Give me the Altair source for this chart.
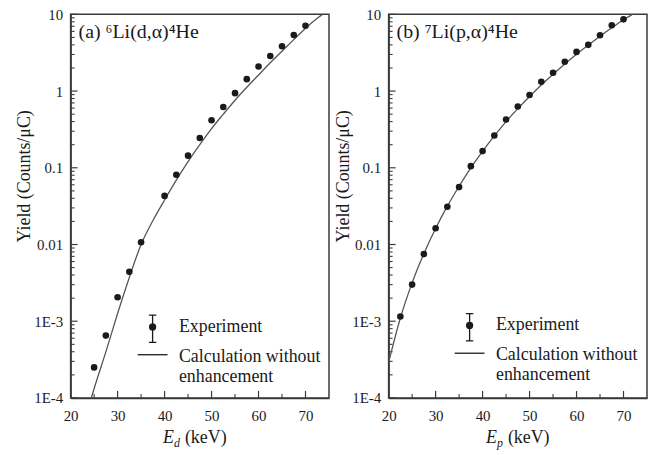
import math
import altair as alt
import pandas as pd

FONT = "Liberation Serif"
INK = "#1a1a1a"
AXIS_C = "#3a3a3a"
CURVE_C = "#555555"

# ---------------- data ----------------
# Panel (a) 6Li(d,alpha)4He
A_EXP_E = [25, 27.5, 30, 32.5, 35, 40, 42.5, 45, 47.5, 50, 52.5, 55, 57.5, 60, 62.5, 65, 67.5, 70]
A_EXP_Y = [2.5e-4, 6.5e-4, 2.05e-3, 4.4e-3, 0.0107, 0.043, 0.081, 0.144, 0.244, 0.417,
           0.62, 0.94, 1.43, 2.09, 2.87, 3.83, 5.37, 7.1]
A_CALC_E = [24.4, 25, 27.5, 30, 32.5, 35, 37.5, 40, 42.5, 45, 47.5, 50, 52.5, 55, 57.5,
            60, 62.5, 65, 67.5, 70, 72.5, 73.6]
A_CALC_Y = [1.0e-4, 1.32e-4, 3.98e-4, 1.26e-3, 3.72e-3, 0.0100, 0.0204, 0.038, 0.069, 0.120,
            0.200, 0.324, 0.50, 0.76, 1.12, 1.62, 2.34, 3.31, 4.68, 6.6, 8.9, 10.0]

# Panel (b) 7Li(p,alpha)4He
B_EXP_E = [22.5, 25, 27.5, 30, 32.5, 35, 37.5, 40, 42.5, 45, 47.5, 50, 52.5, 55, 57.5,
           60, 62.5, 65, 67.5, 70]
B_EXP_Y = [1.15e-3, 3.0e-3, 7.5e-3, 0.0163, 0.031, 0.056, 0.105, 0.165, 0.264, 0.425,
           0.63, 0.89, 1.32, 1.73, 2.41, 3.24, 4.0, 5.34, 7.2, 8.6]
B_CALC_E = [20, 22.5, 25, 27.5, 30, 32.5, 35, 37.5, 40, 42.5, 45, 47.5, 50, 52.5, 55,
            57.5, 60, 62.5, 65, 67.5, 70, 71.9]
B_CALC_Y = [2.9e-4, 1.10e-3, 3.16e-3, 7.6e-3, 0.0162, 0.0316, 0.0575, 0.100, 0.164, 0.26,
            0.40, 0.59, 0.85, 1.20, 1.66, 2.26, 3.02, 3.98, 5.19, 6.68, 8.5, 10.0]

# axes
X_MAJOR = [20, 30, 40, 50, 60, 70]
X_MINOR = [25, 35, 45, 55, 65]
Y_MAJOR = [1e-4, 1e-3, 1e-2, 1e-1, 1, 10]
Y_TICK_LABELS = ["1E-4", "1E-3", "0.01", "0.1", "1", "10"]
Y_MINOR_MULT = [2, 3, 4, 5, 6, 7, 8, 9]
Y_MINOR = [m * d for d in Y_MAJOR[:-1] for m in Y_MINOR_MULT]
Y_TITLE = "Yield (Counts/\u03bcC)"

LEGEND_LINES = [["Experiment"], ["Calculation without", "enhancement"]]
LEGEND_LABELS = [" ".join(l) for l in LEGEND_LINES]

TITLE_A = "(a) \u2076Li(d,\u03b1)\u2074He"
TITLE_B = "(b) \u2077Li(p,\u03b1)\u2074He"
XT_A = ["E", "d", "(keV)"]
XT_B = ["E", "p", "(keV)"]

# ---------------- layout / style ----------------
W, H = 260, 386
XS = alt.Scale(domain=[20, 75], nice=False, zero=False)
YS = alt.Scale(type="log", domain=[1e-4, 10], nice=False)

# legend symbols, drawn with strokes only (unit = 10 px at symbolSize 400)
def ring(r):
    return f"M{-r},0A{r},{r},0,1,0,{r},0A{r},{r},0,1,0,{-r},0"

ERR_PATH = ("M0,-1.175L0,1.555M-0.37,-1.175L0.37,-1.175M-0.37,1.555L0.37,1.555"
            + ring(0.3) + ring(0.2) + ring(0.1))
LINE_PATH = "M-1.5,-0.2L1.5,-0.2"

ylab_expr = ""
for v, lab in zip(Y_MAJOR, Y_TICK_LABELS):
    ylab_expr += f"abs(log(datum.value)/log(10) - ({math.log10(v)})) < 0.01 ? '{lab}' : "
ylab_expr += "datum.label"

leg_expr = ""
for lines, lab in zip(LEGEND_LINES, LEGEND_LABELS):
    arr = "[" + ",".join(f"'{s}'" for s in lines) + "]"
    leg_expr += f"datum.label == '{lab}' ? {arr} : "
leg_expr += "datum.label"


def axes(title_x):
    xa = alt.Axis(values=X_MAJOR, format="d", ticks=False, tickSize=0, labelPadding=11,
                  labelFont=FONT, labelFontSize=15, labelColor=INK, labelFlush=False,
                  domainColor=AXIS_C, domainWidth=1.5, grid=False, title=None)
    ya = alt.Axis(values=Y_MAJOR, labelExpr=ylab_expr, ticks=False, tickSize=0,
                  labelPadding=8, labelFont=FONT, labelFontSize=15, labelColor=INK,
                  labelFlush=False, labelOverlap=False, domainColor=AXIS_C, domainWidth=1.5,
                  grid=False, title=Y_TITLE, titleFont=FONT, titleFontSize=18,
                  titleFontWeight="normal", titleColor=INK, titleX=title_x, titleY=162.5,
                  titleAlign="center", titleBaseline="middle")
    return xa, ya


def text_layer(txt, x, y, size, style="normal"):
    return alt.Chart(pd.DataFrame({"t": [txt]})).mark_text(
        align="left", baseline="alphabetic", fontSize=size, fontStyle=style,
        color=INK, font=FONT
    ).encode(x=alt.value(x), y=alt.value(y), text="t:N")


def panel(exp_e, exp_y, calc_e, calc_y, title, xt, title_x, legend_x, legend_y, xt_x):
    xa, ya = axes(title_x)
    exp = pd.DataFrame({"E": exp_e, "Y": exp_y, "series": LEGEND_LABELS[0]})
    calc = pd.DataFrame({"E": calc_e, "Y": calc_y})
    X = alt.X("E:Q", scale=XS, axis=xa)
    Y = alt.Y("Y:Q", scale=YS, axis=ya)

    curve = alt.Chart(calc).mark_line(color=CURVE_C, strokeWidth=1.3, clip=True,
                                      interpolate="monotone").encode(x=X, y=Y)
    pts = alt.Chart(exp).mark_circle(size=44, color=INK, opacity=1).encode(x=X, y=Y)
    leg = alt.Chart(exp).transform_filter("false").mark_point(
        filled=False, color=INK, strokeWidth=1.3, opacity=1
    ).encode(
        x=X, y=Y,
        shape=alt.Shape("series:N",
                        scale=alt.Scale(domain=LEGEND_LABELS, range=[ERR_PATH, LINE_PATH]),
                        legend=alt.Legend(title=None, orient="none", legendX=legend_x,
                                          legendY=legend_y, padding=0, symbolSize=400,
                                          symbolStrokeColor=INK, symbolStrokeWidth=1.3,
                                          symbolOpacity=1, labelFontSize=18, labelColor=INK,
                                          labelFont=FONT, labelOffset=15.5, labelLimit=400,
                                          rowPadding=0, labelExpr=leg_expr)))

    ymaj = alt.Chart(pd.DataFrame({"v": Y_MAJOR})).mark_rule(color=AXIS_C, strokeWidth=1.2).encode(
        y=alt.Y("v:Q", scale=YS, axis=ya), x=alt.value(0), x2=alt.value(7))
    ymin = alt.Chart(pd.DataFrame({"v": Y_MINOR})).mark_rule(color=AXIS_C, strokeWidth=1.1).encode(
        y=alt.Y("v:Q", scale=YS, axis=ya), x=alt.value(0), x2=alt.value(4))
    xmaj = alt.Chart(pd.DataFrame({"v": X_MAJOR})).mark_rule(color=AXIS_C, strokeWidth=1.2).encode(
        x=alt.X("v:Q", scale=XS, axis=xa), y=alt.value(H), y2=alt.value(H - 7))
    xmin = alt.Chart(pd.DataFrame({"v": X_MINOR})).mark_rule(color=AXIS_C, strokeWidth=1.1).encode(
        x=alt.X("v:Q", scale=XS, axis=xa), y=alt.value(H), y2=alt.value(H - 4))

    ttl = text_layer(title, 8, 24, 20)
    xt1 = text_layer(xt[0], xt_x, H + 45, 18, "italic")
    xt2 = text_layer(xt[1], xt_x + 11, H + 49, 12, "italic")
    xt3 = text_layer(xt[2], xt_x + 22, H + 45, 18)

    return alt.layer(ymin, ymaj, xmin, xmaj, curve, pts, leg, ttl, xt1, xt2, xt3).properties(
        width=W, height=H)


left = panel(A_EXP_E, A_EXP_Y, A_CALC_E, A_CALC_Y, TITLE_A, XT_A, -46, 71.5, 303.5, 93)
right = panel(B_EXP_E, B_EXP_Y, B_CALC_E, B_CALC_Y, TITLE_B, XT_B, -45, 70.5, 302, 98)

chart = alt.hconcat(left, right, spacing=4).resolve_scale(
    shape="independent"
).resolve_legend(shape="independent").properties(
    padding={"left": 7, "top": -3, "right": 0, "bottom": 0}
).configure(font=FONT).configure_axis(
    labelFont=FONT, titleFont=FONT
).configure_legend(labelFont=FONT, titleFont=FONT).configure_text(
    font=FONT
).configure_view(stroke=AXIS_C, strokeWidth=1.5)

chart.save("out.html", embed_options={"renderer": "svg", "actions": False})
